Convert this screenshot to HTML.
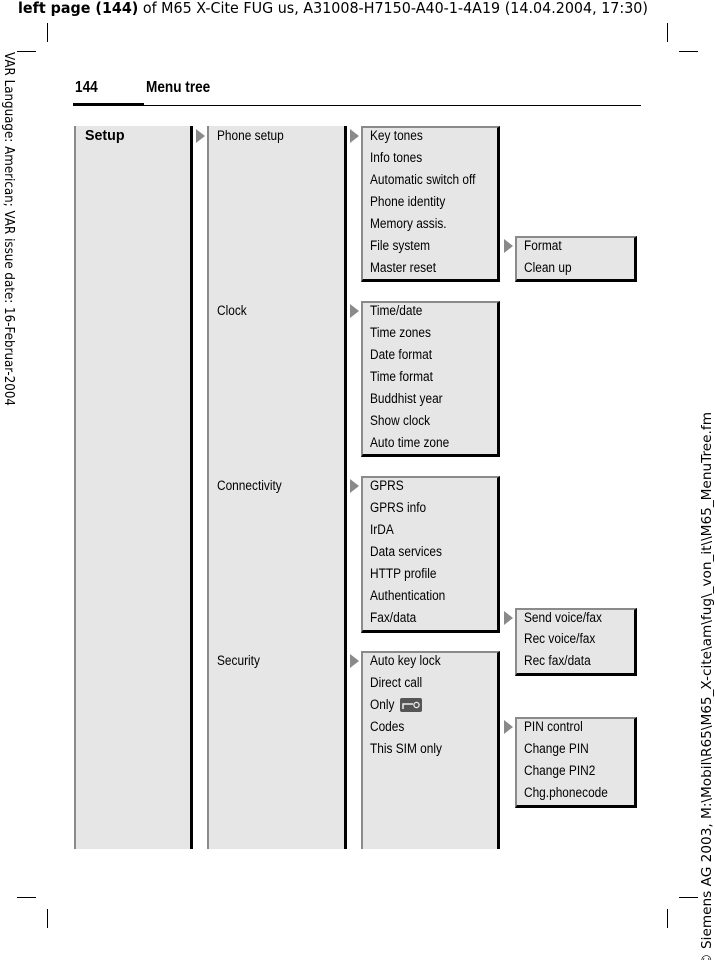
<!DOCTYPE html>
<html><head><meta charset="utf-8"><style>
body{margin:0;width:715px;height:960px;position:relative;background:#fff;overflow:hidden;font-family:"Liberation Sans",Arial,sans-serif;}
.b{position:absolute;background:#e6e6e6;box-sizing:border-box;border-left:2px solid #8a8a8a;border-top:2px solid #8a8a8a;border-right:3px solid #000;border-bottom:3px solid #000;}
.c{border-top:none;border-bottom:none;}
.t{position:absolute;font-size:13.5px;line-height:16px;white-space:nowrap;transform:scaleX(.88);transform-origin:left center;color:#000;}
.a{position:absolute;width:0;height:0;border-top:7px solid transparent;border-bottom:7px solid transparent;border-left:9px solid #8a8a8a;}
.l{position:absolute;background:#000;}
</style></head><body>
<svg style="position:absolute;left:0;top:0" width="715" height="960">
<text x="18" y="13" font-family="DejaVu Sans, sans-serif" font-size="15" textLength="630" lengthAdjust="spacingAndGlyphs"><tspan font-weight="bold">left page (144)</tspan> of M65 X-Cite FUG us, A31008-H7150-A40-1-4A19 (14.04.2004, 17:30)</text>
<text transform="translate(5,52) rotate(90)" font-family="DejaVu Sans, sans-serif" font-size="13" textLength="354" lengthAdjust="spacingAndGlyphs">VAR Language: American; VAR issue date: 16-Februar-2004</text>
<text transform="translate(711,967) rotate(-90)" font-family="DejaVu Sans, sans-serif" font-size="13" textLength="555" lengthAdjust="spacingAndGlyphs">© Siemens AG 2003, M:\Mobil\R65\M65_X-cite\am\fug\_von_it\\M65_MenuTree.fm</text>
<g stroke="#000" stroke-width="1">
<line x1="47.5" y1="23" x2="47.5" y2="42"/><line x1="17" y1="51.5" x2="36" y2="51.5"/>
<line x1="667.5" y1="23" x2="667.5" y2="42"/><line x1="679" y1="51.5" x2="698" y2="51.5"/>
<line x1="17" y1="897.5" x2="36" y2="897.5"/><line x1="47.5" y1="909" x2="47.5" y2="928"/>
<line x1="679" y1="897.5" x2="698" y2="897.5"/><line x1="667.5" y1="909" x2="667.5" y2="928"/>
</g>
</svg>
<div style="position:absolute;left:75px;top:79px;font-size:16px;font-weight:bold;transform:scaleX(.85);transform-origin:left;">144</div>
<div style="position:absolute;left:146px;top:79px;font-size:16px;font-weight:bold;transform:scaleX(.85);transform-origin:left;">Menu tree</div>
<div class="l" style="left:73px;top:103px;width:71px;height:3px"></div>
<div class="l" style="left:143px;top:105px;width:498px;height:1px"></div>

<div class="b c" style="left:74px;top:126px;width:119px;height:723px"></div>
<div class="b c" style="left:207px;top:126px;width:140px;height:723px"></div>
<div class="b" style="left:361px;top:126px;width:139px;height:156px"></div>
<div class="b" style="left:361px;top:301px;width:139px;height:156px"></div>
<div class="b" style="left:361px;top:476px;width:139px;height:157px"></div>
<div class="b" style="left:361px;top:651px;width:139px;height:198px;border-bottom:none"></div>
<div class="b" style="left:515px;top:236px;width:122px;height:46px"></div>
<div class="b" style="left:515px;top:608px;width:122px;height:68px"></div>
<div class="b" style="left:515px;top:717px;width:122px;height:91px"></div>

<div class="a" style="left:196px;top:129px"></div>
<div class="a" style="left:350px;top:129px"></div>
<div class="a" style="left:504px;top:239px"></div>
<div class="a" style="left:350px;top:304px"></div>
<div class="a" style="left:350px;top:479px"></div>
<div class="a" style="left:504px;top:611px"></div>
<div class="a" style="left:350px;top:654px"></div>
<div class="a" style="left:504px;top:720px"></div>

<div class="t" style="left:85px;top:128px;font-weight:bold;font-size:15px;transform:scaleX(.95)">Setup</div>
<div class="t" style="left:217px;top:128px">Phone setup</div>
<div class="t" style="left:217px;top:303px">Clock</div>
<div class="t" style="left:217px;top:478px">Connectivity</div>
<div class="t" style="left:217px;top:653px">Security</div>

<div class="t" style="left:370px;top:128px">Key tones</div>
<div class="t" style="left:370px;top:150px">Info tones</div>
<div class="t" style="left:370px;top:172px">Automatic switch off</div>
<div class="t" style="left:370px;top:194px">Phone identity</div>
<div class="t" style="left:370px;top:216px">Memory assis.</div>
<div class="t" style="left:370px;top:238px">File system</div>
<div class="t" style="left:370px;top:260px">Master reset</div>

<div class="t" style="left:370px;top:303px">Time/date</div>
<div class="t" style="left:370px;top:325px">Time zones</div>
<div class="t" style="left:370px;top:347px">Date format</div>
<div class="t" style="left:370px;top:369px">Time format</div>
<div class="t" style="left:370px;top:391px">Buddhist year</div>
<div class="t" style="left:370px;top:413px">Show clock</div>
<div class="t" style="left:370px;top:435px">Auto time zone</div>

<div class="t" style="left:370px;top:478px">GPRS</div>
<div class="t" style="left:370px;top:500px">GPRS info</div>
<div class="t" style="left:370px;top:522px">IrDA</div>
<div class="t" style="left:370px;top:544px">Data services</div>
<div class="t" style="left:370px;top:566px">HTTP profile</div>
<div class="t" style="left:370px;top:588px">Authentication</div>
<div class="t" style="left:370px;top:610px">Fax/data</div>

<div class="t" style="left:370px;top:653px">Auto key lock</div>
<div class="t" style="left:370px;top:675px">Direct call</div>
<div class="t" style="left:370px;top:697px">Only</div>
<svg style="position:absolute;left:400px;top:697px" width="22" height="16"><rect x="0" y="1" width="22" height="14" rx="2" fill="#555"/><path d="M3 12 V7 H13" stroke="#eee" stroke-width="1.5" fill="none"/><circle cx="16.5" cy="8" r="2.6" stroke="#eee" stroke-width="1.3" fill="none"/></svg>
<div class="t" style="left:370px;top:719px">Codes</div>
<div class="t" style="left:370px;top:741px">This SIM only</div>

<div class="t" style="left:524px;top:238px">Format</div>
<div class="t" style="left:524px;top:260px">Clean up</div>
<div class="t" style="left:524px;top:610px">Send voice/fax</div>
<div class="t" style="left:524px;top:631px">Rec voice/fax</div>
<div class="t" style="left:524px;top:653px">Rec fax/data</div>
<div class="t" style="left:524px;top:719px">PIN control</div>
<div class="t" style="left:524px;top:741px">Change PIN</div>
<div class="t" style="left:524px;top:763px">Change PIN2</div>
<div class="t" style="left:524px;top:785px">Chg.phonecode</div>
</body></html>
